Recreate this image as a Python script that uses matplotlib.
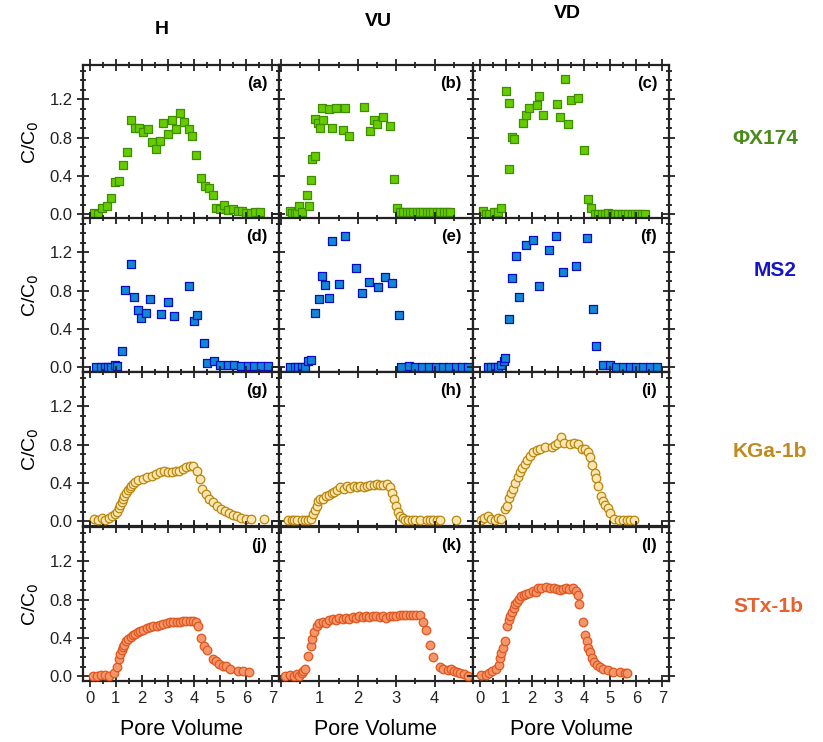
import matplotlib.pyplot as plt
from matplotlib.ticker import MultipleLocator

plt.rcParams['font.family'] = ['Liberation Sans', 'DejaVu Sans']

# ---- data ----
# row 1: PhiX174 (H, VU, VD)
phi_h_x = [0.16, 0.33, 0.48, 0.67, 0.82, 0.99, 1.13, 1.28, 1.43, 1.59, 1.75, 1.90, 2.06, 2.22, 2.38,
           2.53, 2.68, 2.82, 2.99, 3.16, 3.30, 3.46, 3.61, 3.80, 3.94, 4.09, 4.25, 4.41, 4.56, 4.72,
           4.85, 5.01, 5.16, 5.30, 5.48, 5.67, 5.84, 6.00, 6.16, 6.34, 6.54]
phi_h_y = [0.01, 0.00, 0.06, 0.09, 0.17, 0.34, 0.35, 0.51, 0.65, 0.98, 0.90, 0.90, 0.86, 0.89, 0.75,
           0.68, 0.77, 0.95, 0.84, 0.98, 0.89, 1.06, 0.96, 0.89, 0.82, 0.62, 0.38, 0.29, 0.27, 0.20,
           0.06, 0.05, 0.10, 0.04, 0.05, 0.035, 0.03, 0.015, 0.01, 0.02, 0.02]
phi_vu_x = [0.23, 0.30, 0.37, 0.41, 0.48, 0.54, 0.67, 0.73, 0.79, 0.82, 0.90, 0.90, 0.96, 1.03, 1.06,
            1.10, 1.24, 1.32, 1.43, 1.61, 1.68, 1.77, 2.15, 2.32, 2.42, 2.50, 2.67, 2.85, 2.94, 3.02,
            3.10, 3.19, 3.28, 3.37, 3.45, 3.54, 3.63, 3.71, 3.80, 3.89, 3.97, 4.06, 4.15, 4.24,
            4.32, 4.41]
phi_vu_y = [0.035, 0.01, 0.01, 0.01, 0.09, 0.02, 0.20, 0.09, 0.36, 0.58, 0.61, 1.00, 0.95, 0.90, 1.11,
            0.98, 1.10, 0.90, 1.11, 0.88, 1.11, 0.82, 1.12, 0.87, 0.98, 0.94, 1.02, 0.92, 0.37, 0.07,
            0.025, 0.02, 0.02, 0.02, 0.02, 0.02, 0.02, 0.02, 0.02, 0.02, 0.02, 0.02, 0.02, 0.02,
            0.02, 0.02]
phi_vd_x = [0.13, 0.26, 0.38, 0.54, 0.70, 0.83, 1.03, 1.13, 1.13, 1.23, 1.33, 1.65, 1.77, 1.91, 2.21,
            2.29, 2.44, 2.97, 3.06, 3.26, 3.37, 3.51, 3.76, 4.01, 4.15, 4.28, 4.41, 4.55, 4.68, 4.81,
            4.91, 5.05, 5.18, 5.31, 5.44, 5.56, 5.69, 5.82, 5.95, 6.08, 6.21, 6.33]
phi_vd_y = [0.035, 0.00, 0.00, 0.02, 0.025, 0.06, 1.29, 1.16, 0.47, 0.81, 0.79, 0.95, 1.04, 1.11, 1.14,
            1.24, 1.04, 1.15, 1.02, 1.41, 0.94, 1.19, 1.22, 0.67, 0.16, 0.06, 0.00, 0.00, 0.00, 0.00,
            0.015, 0.00, 0.00, 0.00, 0.00, 0.00, 0.00, 0.00, 0.00, 0.00, 0.00, 0.00]

# row 2: MS2
ms2_h_x = [0.23, 0.42, 0.58, 0.71, 0.84, 0.99, 1.05, 1.24, 1.34, 1.58, 1.71, 1.84, 1.96, 2.15, 2.32,
           2.73, 2.99, 3.23, 3.80, 4.00, 4.11, 4.37, 4.49, 4.75, 5.00, 5.29, 5.54, 5.80, 6.05, 6.30,
           6.56, 6.81]
ms2_h_y = [0.00, 0.00, 0.00, 0.00, 0.00, 0.02, 0.015, 0.17, 0.81, 1.08, 0.73, 0.60, 0.51, 0.57, 0.71,
           0.56, 0.68, 0.54, 0.85, 0.48, 0.55, 0.25, 0.04, 0.07, 0.025, 0.025, 0.025, 0.01, 0.01, 0.01,
           0.01, 0.01]
ms2_vu_x = [0.23, 0.37, 0.45, 0.54, 0.63, 0.70, 0.77, 0.90, 0.98, 1.07, 1.16, 1.24, 1.33, 1.50, 1.68,
            1.95, 2.11, 2.28, 2.54, 2.72, 2.90, 3.07, 3.12, 3.34, 3.50, 3.67, 3.86, 4.03, 4.21, 4.38,
            4.56, 4.71, 4.86]
ms2_vu_y = [0.00, 0.00, 0.00, 0.00, 0.00, 0.06, 0.08, 0.57, 0.71, 0.95, 0.86, 0.72, 1.32, 0.87, 1.37,
            1.04, 0.78, 0.89, 0.84, 0.94, 0.88, 0.55, 0.00, 0.01, 0.00, 0.00, 0.00, 0.00, 0.00, 0.00,
            0.00, 0.00, 0.00]
ms2_vd_x = [0.32, 0.45, 0.58, 0.70, 0.83, 0.92, 0.96, 1.13, 1.24, 1.38, 1.51, 1.77, 2.03, 2.28, 2.67,
            2.92, 3.18, 3.69, 4.10, 4.36, 4.46, 4.74, 5.00, 5.23, 5.49, 5.74, 6.00, 6.26, 6.51, 6.79]
ms2_vd_y = [0.00, 0.00, 0.00, 0.00, 0.02, 0.06, 0.10, 0.50, 0.93, 1.16, 0.73, 1.28, 1.33, 0.85, 1.23,
            1.37, 1.00, 1.06, 1.35, 0.61, 0.22, 0.02, 0.025, 0.00, 0.00, 0.00, 0.00, 0.00, 0.00, 0.00]

# row 3: KGa-1b
kga_h_x = [0.16, 0.33, 0.46, 0.61, 0.73, 0.86, 0.99, 1.05, 1.11, 1.18, 1.23, 1.28, 1.33, 1.39, 1.46,
           1.53, 1.59, 1.66, 1.75, 1.87, 2.03, 2.19, 2.38, 2.54, 2.70, 2.85, 3.01, 3.16, 3.29, 3.43,
           3.56, 3.68, 3.84, 3.96, 4.11, 4.22, 4.32, 4.44, 4.57, 4.72, 4.87, 5.04, 5.19, 5.35, 5.48,
           5.63, 5.80, 5.99, 6.18, 6.68]
kga_h_y = [0.02, 0.01, 0.03, 0.01, 0.03, 0.05, 0.08, 0.10, 0.14, 0.17, 0.20, 0.23, 0.26, 0.29, 0.33,
           0.35, 0.37, 0.39, 0.41, 0.43, 0.44, 0.46, 0.47, 0.49, 0.51, 0.52, 0.51, 0.51, 0.52, 0.53,
           0.55, 0.57, 0.58, 0.58, 0.52, 0.44, 0.34, 0.28, 0.23, 0.20, 0.16, 0.13, 0.11, 0.09, 0.07,
           0.05, 0.035, 0.025, 0.02, 0.02]
kga_vu_x = [0.19, 0.28, 0.35, 0.43, 0.54, 0.63, 0.71, 0.77, 0.83, 0.89, 0.93, 0.97, 1.03, 1.10, 1.17,
            1.26, 1.32, 1.39, 1.45, 1.54, 1.63, 1.71, 1.80, 1.89, 1.97, 2.06, 2.15, 2.23, 2.32, 2.41,
            2.50, 2.58, 2.67, 2.77, 2.84, 2.90, 2.95, 3.00, 3.04, 3.10, 3.17, 3.23, 3.32, 3.41, 3.50,
            3.61, 3.80, 3.89, 3.97, 4.06, 4.13, 4.56]
kga_vu_y = [0.01, 0.01, 0.01, 0.01, 0.01, 0.01, 0.01, 0.025, 0.08, 0.12, 0.16, 0.21, 0.23, 0.23, 0.26,
            0.27, 0.29, 0.31, 0.33, 0.36, 0.34, 0.37, 0.35, 0.37, 0.36, 0.37, 0.36, 0.37, 0.38, 0.38,
            0.39, 0.38, 0.38, 0.39, 0.36, 0.30, 0.23, 0.16, 0.10, 0.05, 0.03, 0.01, 0.01, 0.01, 0.01,
            0.01, 0.01, 0.01, 0.01, 0.01, 0.01, 0.01]
kga_vd_x = [0.06, 0.19, 0.32, 0.45, 0.58, 0.71, 0.83, 0.96, 1.05, 1.13, 1.19, 1.28, 1.37, 1.47, 1.56,
            1.64, 1.73, 1.82, 1.92, 2.05, 2.18, 2.33, 2.50, 2.76, 2.88, 3.01, 3.12, 3.23, 3.46, 3.62,
            3.78, 3.91, 4.04, 4.14, 4.21, 4.30, 4.40, 4.46, 4.55, 4.64, 4.72, 4.81, 4.90, 5.00, 5.13,
            5.32, 5.49, 5.64, 5.77, 5.90]
kga_vd_y = [0.01, 0.03, 0.05, 0.025, 0.01, 0.03, 0.025, 0.13, 0.16, 0.24, 0.30, 0.34, 0.40, 0.46, 0.51,
            0.56, 0.60, 0.64, 0.68, 0.72, 0.74, 0.75, 0.78, 0.78, 0.80, 0.82, 0.88, 0.82, 0.81, 0.82,
            0.81, 0.76, 0.75, 0.72, 0.67, 0.59, 0.50, 0.45, 0.37, 0.26, 0.21, 0.17, 0.14, 0.09, 0.02,
            0.01, 0.01, 0.01, 0.01, 0.01]

# row 4: STx-1b
stx_h_x = [0.14, 0.29, 0.44, 0.61, 0.76, 0.92, 1.05, 1.11, 1.18, 1.23, 1.28, 1.33, 1.41, 1.49, 1.58,
           1.66, 1.75, 1.84, 1.94, 2.06, 2.19, 2.32, 2.44, 2.57, 2.70, 2.82, 2.95, 3.08, 3.20, 3.33,
           3.46, 3.58, 3.71, 3.84, 3.96, 4.06, 4.15, 4.25, 4.37, 4.49, 4.72, 4.85, 4.97, 5.10, 5.23,
           5.38, 5.67, 5.86, 6.09]
stx_h_y = [0.00, 0.00, 0.01, 0.01, 0.00, 0.03, 0.10, 0.18, 0.23, 0.27, 0.31, 0.33, 0.37, 0.39, 0.41,
           0.43, 0.44, 0.46, 0.47, 0.48, 0.50, 0.51, 0.52, 0.52, 0.54, 0.55, 0.56, 0.57, 0.57, 0.57,
           0.57, 0.58, 0.58, 0.58, 0.58, 0.57, 0.53, 0.40, 0.32, 0.27, 0.18, 0.16, 0.13, 0.11, 0.11,
           0.08, 0.05, 0.05, 0.045]
stx_vu_x = [0.10, 0.23, 0.34, 0.41, 0.48, 0.54, 0.58, 0.63, 0.71, 0.77, 0.82, 0.87, 0.93, 1.00, 1.09,
            1.17, 1.26, 1.35, 1.43, 1.52, 1.61, 1.70, 1.78, 1.87, 1.96, 2.04, 2.13, 2.22, 2.30, 2.39,
            2.48, 2.57, 2.65, 2.74, 2.83, 2.91, 3.00, 3.09, 3.17, 3.26, 3.35, 3.43, 3.52, 3.63, 3.71,
            3.78, 3.87, 3.97, 4.13, 4.23, 4.34, 4.43, 4.50, 4.58, 4.67, 4.76, 4.86]
stx_vu_y = [0.00, 0.01, 0.00, 0.02, 0.00, 0.03, 0.05, 0.08, 0.21, 0.32, 0.39, 0.46, 0.53, 0.56, 0.57,
            0.56, 0.59, 0.60, 0.59, 0.61, 0.60, 0.61, 0.60, 0.62, 0.61, 0.63, 0.62, 0.63, 0.62, 0.63,
            0.63, 0.62, 0.63, 0.61, 0.63, 0.63, 0.63, 0.64, 0.64, 0.64, 0.64, 0.64, 0.64, 0.64, 0.57,
            0.48, 0.33, 0.20, 0.10, 0.08, 0.07, 0.08, 0.05, 0.04, 0.03, 0.025, 0.00]
stx_vd_x = [0.06, 0.23, 0.36, 0.49, 0.62, 0.74, 0.80, 0.83, 0.90, 0.96, 1.05, 1.12, 1.18, 1.24, 1.31,
            1.37, 1.44, 1.51, 1.60, 1.69, 1.79, 1.90, 2.03, 2.15, 2.24, 2.37, 2.54, 2.69, 2.85, 2.95,
            3.08, 3.18, 3.31, 3.44, 3.56, 3.69, 3.78, 3.82, 3.97, 4.04, 4.10, 4.14, 4.21, 4.29, 4.38,
            4.49, 4.62, 4.74, 4.90, 5.10, 5.38, 5.58, 5.64]
stx_vd_y = [0.01, 0.01, 0.03, 0.05, 0.08, 0.12, 0.19, 0.24, 0.29, 0.37, 0.53, 0.59, 0.63, 0.67, 0.71,
            0.75, 0.78, 0.81, 0.84, 0.85, 0.86, 0.87, 0.89, 0.88, 0.92, 0.92, 0.93, 0.92, 0.92, 0.91,
            0.90, 0.91, 0.92, 0.91, 0.92, 0.89, 0.85, 0.76, 0.57, 0.43, 0.37, 0.29, 0.25, 0.19, 0.15,
            0.12, 0.10, 0.08, 0.07, 0.045, 0.04, 0.03, 0.03]

col_titles = ['H', 'VU', 'VD']
row_names = ['\u03a6X174', 'MS2', 'KGa-1b', 'STx-1b']
row_colors = ['#4b8a1c', '#1414c8', '#c08a1e', '#e8602c']
panel_tags = [['(a)', '(b)', '(c)'], ['(d)', '(e)', '(f)'],
              ['(g)', '(h)', '(i)'], ['(j)', '(k)', '(l)']]

data = [[(phi_h_x, phi_h_y), (phi_vu_x, phi_vu_y), (phi_vd_x, phi_vd_y)],
        [(ms2_h_x, ms2_h_y), (ms2_vu_x, ms2_vu_y), (ms2_vd_x, ms2_vd_y)],
        [(kga_h_x, kga_h_y), (kga_vu_x, kga_vu_y), (kga_vd_x, kga_vd_y)],
        [(stx_h_x, stx_h_y), (stx_vu_x, stx_vu_y), (stx_vd_x, stx_vd_y)]]

# marker style per row: (marker, size, face, edge)
styles = [('s', 38, '#66cc00', '#3d8f00'),
          ('s', 38, '#1088d2', '#0a0acc'),
          ('o', 38, '#fde6b2', '#b8860b'),
          ('o', 38, '#f5966a', '#e0561e')]

W, H = 823, 742
fig = plt.figure(figsize=(W / 100, H / 100), dpi=100)

col_left = [83, 279, 473]
col_w = [196, 194, 196]
row_top = [65, 218, 372, 527]
row_h = 154
xlims = [(-0.25, 7.25), (-0.05, 5.0), (-0.25, 7.25)]

for r in range(4):
    for c in range(3):
        ax = fig.add_axes([col_left[c] / W, 1 - (row_top[r] + row_h) / H, col_w[c] / W, row_h / H])
        xs, ys = data[r][c]
        mk, sz, fc, ec = styles[r]
        ax.scatter(xs, ys, marker=mk, s=sz, facecolor=fc, edgecolor=ec, linewidths=0.9, zorder=3,
                   clip_on=False)
        ax.set_xlim(*xlims[c])
        ax.set_ylim(-0.05, 1.56)
        ax.set_yticks([0.0, 0.4, 0.8, 1.2])
        ax.yaxis.set_minor_locator(MultipleLocator(0.1))
        if c == 1:
            ax.set_xticks([0, 1, 2, 3, 4])
        else:
            ax.set_xticks(range(8))
        ax.xaxis.set_minor_locator(MultipleLocator(0.5))
        ax.tick_params(which='both', direction='inout', top=True, right=True, width=1.3,
                       labelsize=12, colors='#222222')
        ax.tick_params(which='major', length=8)
        ax.tick_params(which='minor', length=5)
        for sp in ax.spines.values():
            sp.set_linewidth(1.6)
            sp.set_color('#222222')
        if c == 0:
            ax.set_yticklabels(['0.0', '0.4', '0.8', '1.2'])
            ax.set_ylabel('C/C$_0$', fontsize=14, labelpad=6)
        else:
            ax.set_yticklabels([])
        if r == 3:
            if c == 1:
                ax.set_xticklabels(['', '1', '2', '3', '4'])
            else:
                ax.set_xticklabels([str(i) for i in range(8)])
            ax.set_xlabel('Pore Volume', fontsize=15.5, labelpad=9)
        else:
            ax.set_xticklabels([])
        ax.text(0.94, 0.88, panel_tags[r][c], transform=ax.transAxes, ha='right', va='center',
                fontsize=12, fontweight='bold')

# column titles
fig.text(162 / W, 1 - 30 / H, col_titles[0], ha='center', va='center', fontsize=14,
         fontweight='bold', family=['Liberation Sans Narrow', 'Liberation Sans'])
fig.text(378 / W, 1 - 22 / H, col_titles[1], ha='center', va='center', fontsize=14,
         fontweight='bold', family=['Liberation Sans Narrow', 'Liberation Sans'])
fig.text(567 / W, 1 - 14 / H, col_titles[2], ha='center', va='center', fontsize=14,
         fontweight='bold', family=['Liberation Sans Narrow', 'Liberation Sans'])

# row names on the right
row_label_pos = [(765, 138), (775, 270), (770, 452), (768, 607)]
for name, col, (px, py) in zip(row_names, row_colors, row_label_pos):
    fig.text(px / W, 1 - py / H, name, ha='center', va='center', fontsize=15,
             fontweight='bold', color=col)

plt.savefig('out.png', dpi=100)
